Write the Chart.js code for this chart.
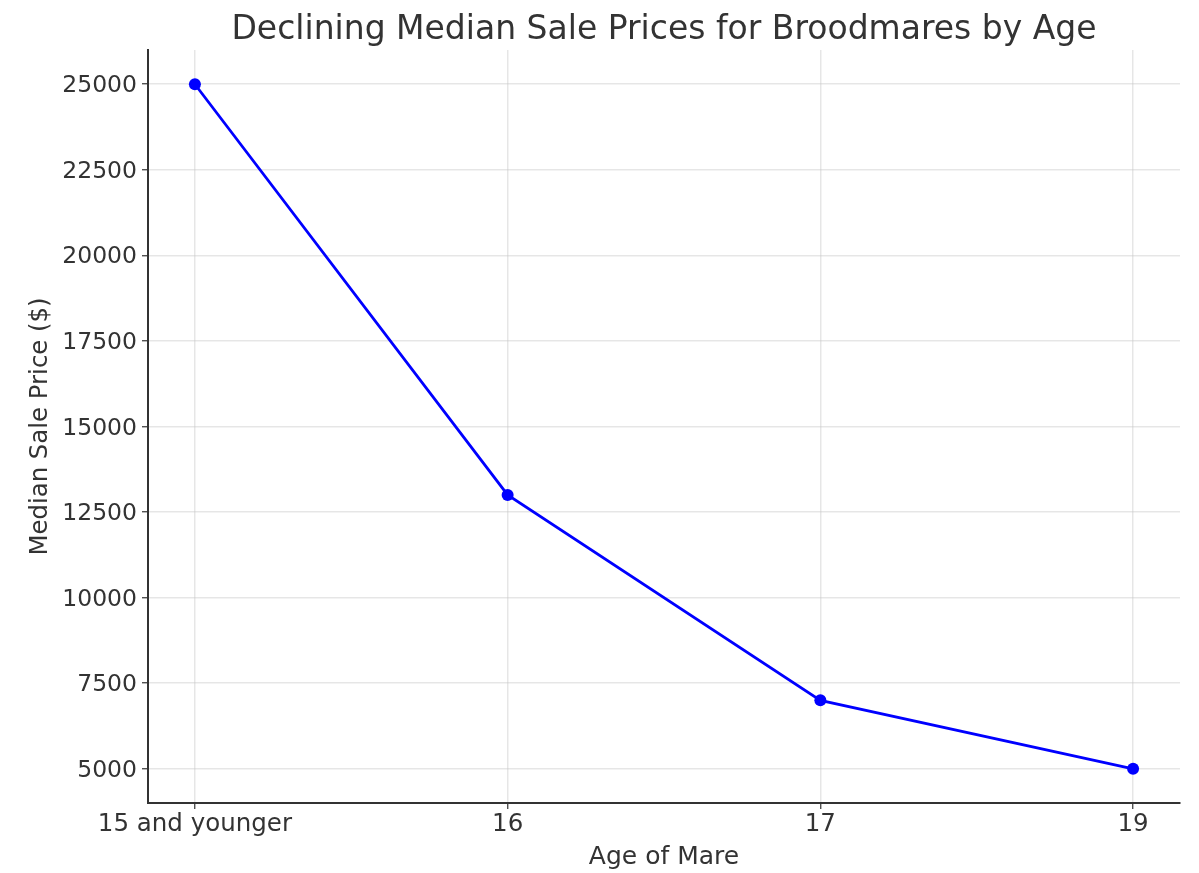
<!DOCTYPE html>
<html>
<head>
<meta charset="utf-8">
<script src="https://cdn.jsdelivr.net/npm/chart.js@4/dist/chart.umd.min.js"></script>
<style>
html,body{margin:0;padding:0;background:#fff;}
canvas{display:block;}
</style>
</head>
<body>
<canvas id="c" width="1199" height="873"></canvas>
<script>
const categories = ["15 and younger", "16", "17", "19"];
const medianPrices = [25000, 13000, 7000, 5000];
const yTickValues = [5000, 7500, 10000, 12500, 15000, 17500, 20000, 22500, 25000];
const chartTitle = "Declining Median Sale Prices for Broodmares by Age";
const xTitle = "Age of Mare";
const yTitle = "Median Sale Price ($)";

const FONT = "'DejaVu Sans', sans-serif";
const TEXT = "#333333";

const titlePlugin = {
  id: 'plotTitle',
  afterDraw(chart) {
    const {ctx, chartArea} = chart;
    ctx.save();
    ctx.font = "33px " + FONT;
    ctx.fillStyle = TEXT;
    ctx.textAlign = "center";
    ctx.textBaseline = "middle";
    ctx.fillText(chartTitle, (chartArea.left + chartArea.right) / 2, 30);
    ctx.restore();
  }
};

new Chart(document.getElementById('c'), {
  type: 'line',
  data: {
    datasets: [{
      data: medianPrices.map((v, i) => ({x: i, y: v})),
      borderColor: '#0000ff',
      backgroundColor: '#0000ff',
      borderWidth: 2.8,
      pointRadius: 6,
      pointHoverRadius: 6,
      pointBackgroundColor: '#0000ff',
      pointBorderWidth: 0,
      tension: 0,
      fill: false
    }]
  },
  options: {
    responsive: false,
    animation: false,
    devicePixelRatio: 1,
    layout: {padding: {left: 0, right: 19, top: 50, bottom: 0}},
    plugins: {legend: {display: false}, tooltip: {enabled: false}, title: {display: false}},
    scales: {
      x: {
        type: 'linear',
        min: -0.15,
        max: 3.15,
        afterBuildTicks(axis) { axis.ticks = categories.map((c, i) => ({value: i})); },
        afterFit(axis) { axis.height = 70; },
        ticks: {
          callback: (v) => categories[v],
          font: {family: FONT, size: 24.5},
          color: TEXT,
          padding: 1,
          maxRotation: 0,
          autoSkip: false
        },
        grid: {color: 'rgba(200,200,200,0.45)', lineWidth: 1.5, tickColor: TEXT, tickLength: 6, tickWidth: 1.2},
        border: {color: TEXT, width: 2},
        title: {display: true, text: xTitle, font: {family: FONT, size: 25}, color: TEXT, padding: {top: 0, bottom: 1}}
      },
      y: {
        min: 4000,
        max: 26000,
        afterBuildTicks(axis) { axis.ticks = yTickValues.map(v => ({value: v})); },
        afterFit(axis) { axis.width = 148; },
        ticks: {
          font: {family: FONT, size: 23.5},
          color: TEXT,
          padding: 5,
          labelOffset: 2,
          callback: (v) => String(v)
        },
        grid: {color: 'rgba(200,200,200,0.45)', lineWidth: 1.5, tickColor: TEXT, tickLength: 6, tickWidth: 1.2},
        border: {color: TEXT, width: 2},
        title: {display: true, text: yTitle, font: {family: FONT, size: 24.4}, color: TEXT, padding: {top: 26, bottom: 0}}
      }
    }
  },
  plugins: [titlePlugin]
});
</script>
</body>
</html>
